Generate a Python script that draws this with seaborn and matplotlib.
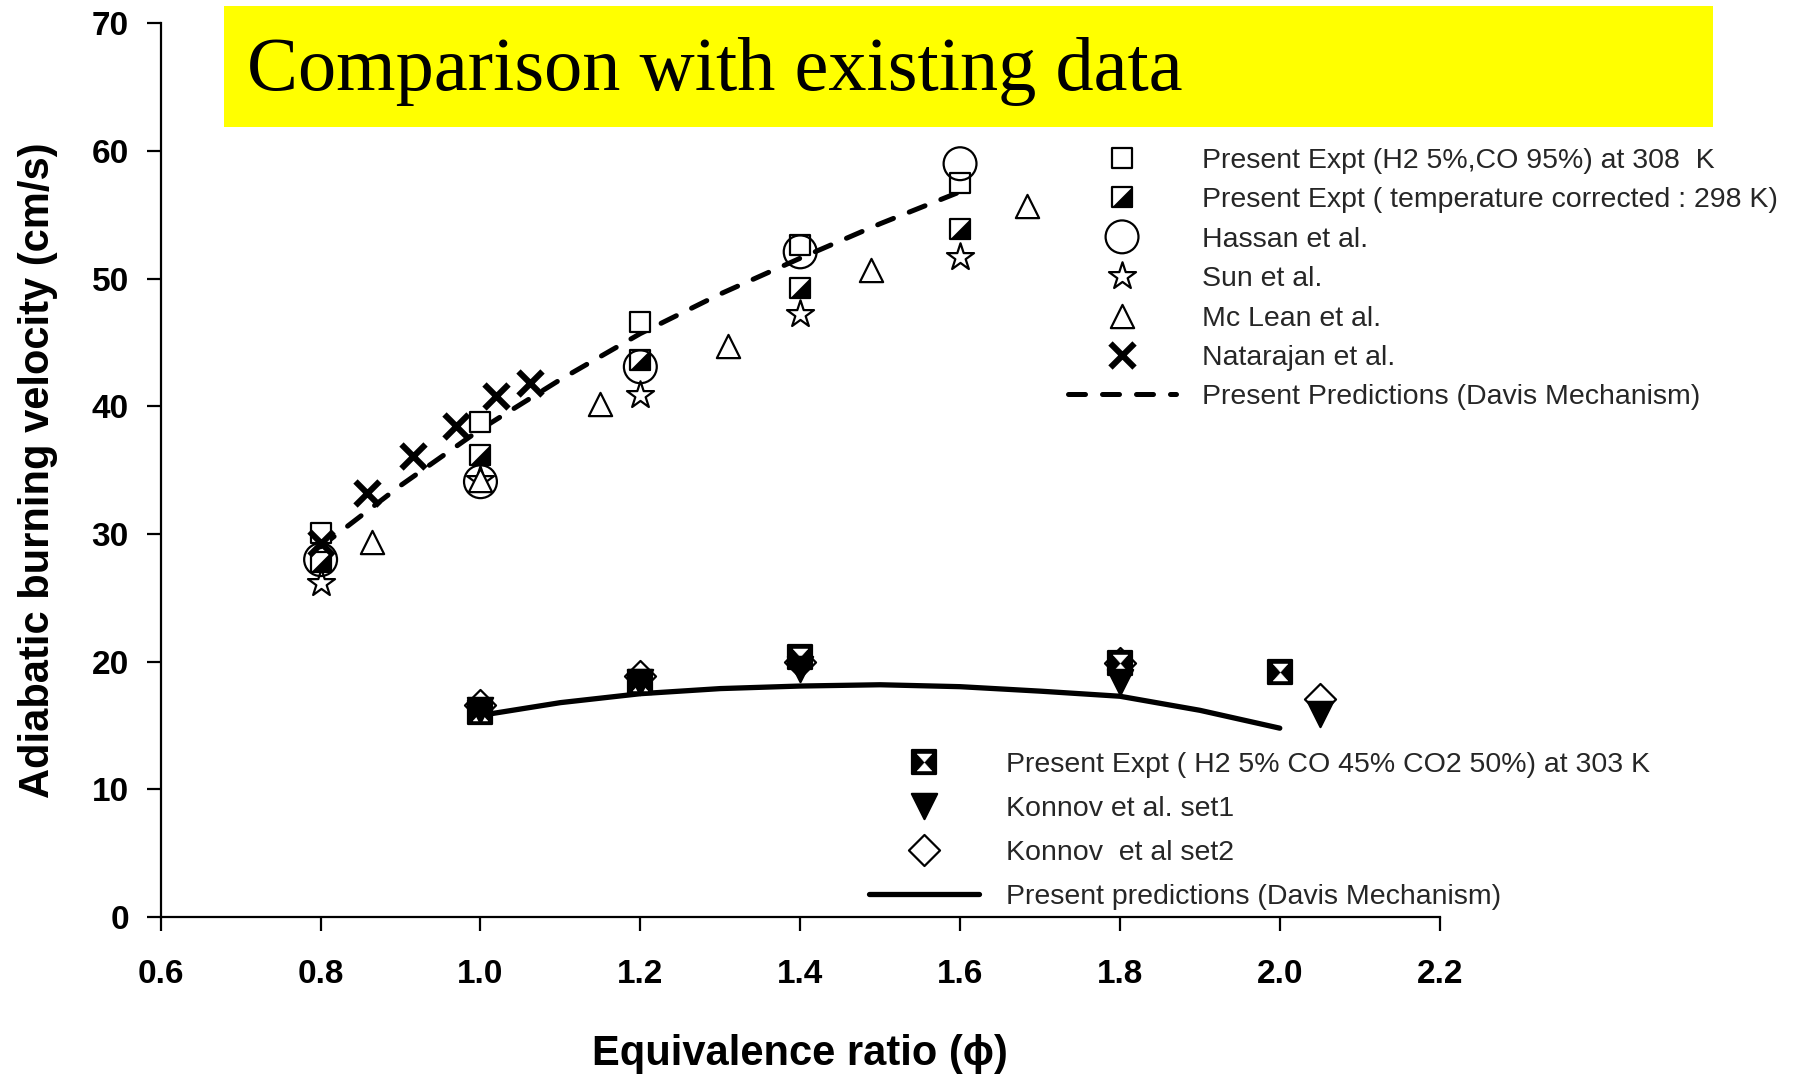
import numpy as np
import pandas as pd
import matplotlib
matplotlib.use("Agg")
import matplotlib.pyplot as plt
from matplotlib.path import Path
from matplotlib.patches import Rectangle
from matplotlib.legend_handler import HandlerTuple
import seaborn as sns

# ---------------- data ----------------
phi_main = [0.8, 1.0, 1.2, 1.4, 1.6]
expt_308 = [30.1, 38.8, 46.6, 52.6, 57.5]
expt_298 = [27.8, 36.2, 43.6, 49.3, 53.9]
hassan = [28.0, 34.1, 43.1, 52.1, 59.0]
sun = [26.2, 34.2, 40.9, 47.2, 51.7]
mclean_phi = [0.864, 1.0, 1.149, 1.310, 1.489, 1.684]
mclean = [29.4, 34.2, 40.2, 44.7, 50.7, 55.7]
natarajan_phi = [0.80, 0.858, 0.916, 0.970, 1.020, 1.062]
natarajan = [29.3, 33.2, 36.1, 38.5, 40.8, 41.8]
pred1_phi = [0.8, 0.9, 1.0, 1.1, 1.2, 1.3, 1.4, 1.5, 1.6]
pred1 = [29.0, 33.8, 38.2, 42.1, 45.7, 48.8, 51.6, 54.3, 56.8]

expt_303_phi = [1.0, 1.2, 1.4, 1.8, 2.0]
expt_303 = [16.1, 18.4, 20.4, 19.9, 19.2]
konnov_phi = [1.0, 1.2, 1.4, 1.8, 2.05]
konnov1 = [16.2, 18.4, 19.4, 18.4, 15.9]
konnov2 = [16.6, 18.9, 20.0, 19.9, 17.1]
pred2_phi = [1.0, 1.1, 1.2, 1.3, 1.4, 1.5, 1.6, 1.7, 1.8, 1.9, 2.0]
pred2 = [15.8, 16.8, 17.5, 17.9, 18.1, 18.2, 18.05, 17.7, 17.3, 16.2, 14.8]

labels_top = [
    "Present Expt (H2 5%,CO 95%) at 308  K",
    "Present Expt ( temperature corrected : 298 K)",
    "Hassan et al.",
    "Sun et al.",
    "Mc Lean et al.",
    "Natarajan et al.",
    "Present Predictions (Davis Mechanism)",
]
labels_bottom = [
    "Present Expt ( H2 5% CO 45% CO2 50%) at 303 K",
    "Konnov et al. set1",
    "Konnov  et al set2",
    "Present predictions (Davis Mechanism)",
]
title_text = "Comparison with existing data"
xlabel_text = "Equivalence ratio (\u03d5)"
ylabel_text = "Adiabatic burning velocity (cm/s)"
xticks = [0.6, 0.8, 1.0, 1.2, 1.4, 1.6, 1.8, 2.0, 2.2]
xtick_labels = ["0.6", "0.8", "1.0", "1.2", "1.4", "1.6", "1.8", "2.0", "2.2"]
yticks = [0, 10, 20, 30, 40, 50, 60, 70]

# ---------------- style ----------------
sns.set_theme(style="ticks")
plt.rcParams["font.family"] = ["Liberation Sans", "DejaVu Sans"]
plt.rcParams["axes.edgecolor"] = "black"

fig = plt.figure(figsize=(18, 10.76), dpi=100)
ax = fig.add_axes([0.0893, 0.1476, 0.7105, 0.8308])

M, L, C = Path.MOVETO, Path.LINETO, Path.CLOSEPOLY
sq_path = Path([(-1, -1), (1, -1), (1, 1), (-1, 1), (-1, -1)], [M, L, L, L, C])
tri_path = Path([(-1, -1), (1, -1), (1, 1), (-1, -1)], [M, L, L, C])
hg_path = Path([(-0.62, 0.72), (0.62, 0.72), (0, 0.03), (-0.62, 0.72),
                (-0.62, -0.72), (0.62, -0.72), (0, -0.03), (-0.62, -0.72)],
               [M, L, L, C, M, L, L, C])


def scat(x, y, **kw):
    sns.scatterplot(x=x, y=y, ax=ax, legend=False, **kw)
    return ax.collections[-1]


def line(x, y, **kw):
    sns.lineplot(x=x, y=y, ax=ax, sort=False, estimator=None, color="black", **kw)
    return ax.lines[-1]


EW = 1.6
# lines
h_pred1 = line(pred1_phi, pred1, linewidth=3.6, zorder=2)
h_pred1.set_dashes((3.4, 3.4))
h_pred1.set_dash_capstyle("round")
h_pred2 = line(pred2_phi, pred2, linewidth=3.8, zorder=2)
h_pred2.set_solid_capstyle("round")

# upper group
h_sq = scat(phi_main, expt_308, marker=sq_path, s=210, color="white", edgecolor="black", linewidth=EW, zorder=3)
h_hs1 = scat(phi_main, expt_298, marker=sq_path, s=210, color="white", edgecolor="black", linewidth=EW, zorder=3)
h_hs2 = scat(phi_main, expt_298, marker=tri_path, s=210, color="black", edgecolor="black", linewidth=0.5, zorder=3)
h_star = scat(phi_main, sun, marker="*", s=420, color="white", edgecolor="black", linewidth=EW, zorder=4)
h_tri = scat(mclean_phi, mclean, marker="^", s=280, color="white", edgecolor="black", linewidth=EW, zorder=4)
h_circ = scat(phi_main, hassan, marker="o", s=560, color="none", edgecolor="black", linewidth=EW, zorder=5)
h_x = scat(natarajan_phi, natarajan, marker="x", s=300, color="black", linewidth=4.4, zorder=5)

# lower group
h_dia = scat(konnov_phi, konnov2, marker="D", s=250, color="white", edgecolor="black", linewidth=EW, zorder=3)
h_hg1 = scat(expt_303_phi, expt_303, marker="s", s=300, color="black", edgecolor="black", linewidth=EW, zorder=4)
h_hg2 = scat(expt_303_phi, expt_303, marker=hg_path, s=150, color="white", edgecolor="white", linewidth=0.3, zorder=4)
h_vt = scat(konnov_phi, konnov1, marker="v", s=330, color="black", edgecolor="black", linewidth=EW, zorder=5)

# axes
ax.set_xlim(0.6, 2.2)
ax.set_ylim(0, 70)
ax.set_xticks(xticks)
ax.set_xticklabels(xtick_labels)
ax.set_yticks(yticks)
sns.despine(ax=ax)
for s in ["left", "bottom"]:
    ax.spines[s].set_linewidth(1.6)
    ax.spines[s].set_color("black")
ax.tick_params(axis="both", direction="out", length=10, width=1.6, color="black",
               labelsize=24, labelcolor="black")
ax.tick_params(axis="y", pad=13)
ax.tick_params(axis="x", pad=20)
for lbl in ax.get_xticklabels() + ax.get_yticklabels():
    lbl.set_fontweight("bold")
ax.set_xlabel(xlabel_text, fontsize=30, fontweight="bold", labelpad=32, color="black")
ax.set_ylabel(ylabel_text, fontsize=30, fontweight="bold", labelpad=24, color="black")
ax.grid(False)

# legends
tup = {tuple: HandlerTuple(ndivide=1, pad=0)}
leg1 = fig.legend(
    [h_sq, (h_hs1, h_hs2), h_circ, h_star, h_tri, h_x, h_pred1], labels_top,
    loc="upper left", bbox_to_anchor=(0.5933, 0.8624), bbox_transform=fig.transFigure,
    frameon=False, fontsize=20.5, handlelength=3.8, handletextpad=0.9,
    labelspacing=0.47, borderpad=0, borderaxespad=0, scatterpoints=1,
    scatteryoffsets=[0.5], handler_map=tup,
)
leg2 = fig.legend(
    [(h_hg1, h_hg2), h_vt, h_dia, h_pred2], labels_bottom,
    loc="upper left", bbox_to_anchor=(0.4828, 0.3014), bbox_transform=fig.transFigure,
    frameon=False, fontsize=20.5, handlelength=3.85, handletextpad=0.95,
    labelspacing=0.64, borderpad=0, borderaxespad=0, scatterpoints=1,
    scatteryoffsets=[0.5], handler_map=tup,
)

# title box
fig.patches.append(Rectangle((224 / 1800, 1 - 127 / 1076), (1713 - 224) / 1800, 121 / 1076,
                             transform=fig.transFigure, facecolor="#ffff00", edgecolor="none", zorder=0))
fig.text(247 / 1800, 1 - 90 / 1076, title_text, fontsize=55, family="Liberation Serif",
         va="baseline", ha="left", color="black")

fig.savefig("out.png", dpi=100)
